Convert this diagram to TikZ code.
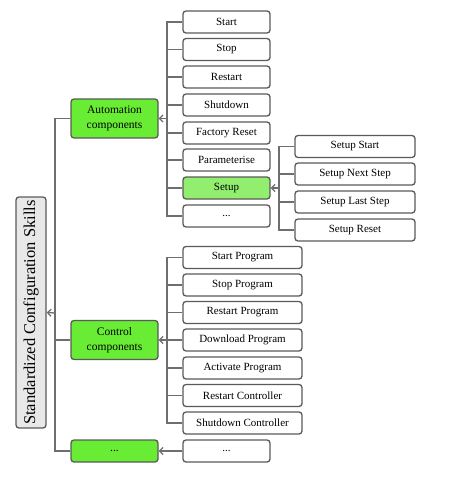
\documentclass[tikz,border=0pt]{standalone}
\usepackage{fontspec}
\setmainfont{Liberation Serif}
\usetikzlibrary{arrows.meta,positioning}
\definecolor{skgreen}{RGB}{104,236,52}
\definecolor{sklight}{RGB}{146,238,110}
\definecolor{skgray}{RGB}{90,90,90}
\definecolor{skline}{RGB}{110,110,110}
\definecolor{skroot}{RGB}{232,232,232}
\tikzset{
    item/.style={
        draw=skgray,line width=1.3pt,rounded corners=3pt,fill=#1,
        align=center,inner sep=0pt,minimum height=22pt,
        font=\fontsize{11}{12}\selectfont
    },
    item/.default=white,
    group/.style={
        item=skgreen,minimum width=87pt,minimum height=39pt,
        font=\fontsize{11.5}{14.5}\selectfont
    },
    link/.style={draw=skline,line width=1.3pt},
    arr/.style={link,-{Straight Barb[length=3.5pt,width=7pt]}}
}

\begin{document}
\begin{tikzpicture}[x=1pt,y=-1pt]
\useasboundingbox (0,0) rectangle (474,484);

% root
\node[item=skroot,minimum width=231pt,minimum height=30pt,rotate=90,
font=\fontsize{16.5}{18}\selectfont]
(root) at (31,312.5) {Standardized Configuration Skills};

% groups
\node[group] (auto) at (114.5,118.5) {Automation\\components};
\node[group] (ctrl) at (114.5,340) {Control\\components};
\node[group,minimum height=22pt] (more) at (114.5,451) {...};

% automation components
\node[item,minimum width=87pt] (a1) at (226.5,22) {Start};
\node[item,minimum width=87pt] (a2) at (226.5,49.5) {Stop};
\node[item,minimum width=87pt] (a3) at (226.5,77) {Restart};
\node[item,minimum width=87pt] (a4) at (226.5,105) {Shutdown};
\node[item,minimum width=87pt] (a5) at (226.5,133) {Factory Reset};
\node[item,minimum width=87pt] (a6) at (226.5,160) {Parameterise};
\node[item=sklight,minimum width=87pt] (setup) at (226.5,188) {Setup};
\node[item,minimum width=87pt] (a8) at (226.5,216) {...};

% setup steps
\node[item,minimum width=120pt] (s1) at (355,146.5) {Setup Start};
\node[item,minimum width=120pt] (s2) at (355,174) {Setup Next Step};
\node[item,minimum width=120pt] (s3) at (355,202) {Setup Last Step};
\node[item,minimum width=120pt] (s4) at (355,230) {Setup Reset};

% control components
\node[item,minimum width=119pt] (c1) at (242.5,257.5) {Start Program};
\node[item,minimum width=119pt] (c2) at (242.5,285) {Stop Program};
\node[item,minimum width=119pt] (c3) at (242.5,312.5) {Restart Program};
\node[item,minimum width=119pt] (c4) at (242.5,340) {Download Program};
\node[item,minimum width=119pt] (c5) at (242.5,368) {Activate Program};
\node[item,minimum width=119pt] (c6) at (242.5,395.5) {Restart Controller};
\node[item,minimum width=119pt] (c7) at (242.5,423) {Shutdown Controller};

\node[item,minimum width=87pt] (m1) at (226.5,451) {...};

% bus points
\coordinate (rbus) at (55,313);
\coordinate (abus) at (167,118.5);
\coordinate (sbus) at (279,188);
\coordinate (cbus) at (167,340);

% connectors
\foreach \n in {auto,ctrl,more} \draw[link] (\n.west) -| (rbus);
\draw[arr] (rbus) -- (root.south);
\foreach \n in {a1,a2,a3,a4,a5,a6,setup,a8} \draw[link] (\n.west) -| (abus);
\draw[arr] (abus) -- (auto.east);
\foreach \n in {s1,s2,s3,s4} \draw[link] (\n.west) -| (sbus);
\draw[arr] (sbus) -- (setup.east);
\foreach \n in {c1,c2,c3,c4,c5,c6,c7} \draw[link] (\n.west) -| (cbus);
\draw[arr] (cbus) -- (ctrl.east);
\draw[arr] (m1.west) -- (more.east);

\end{tikzpicture}
\end{document}
